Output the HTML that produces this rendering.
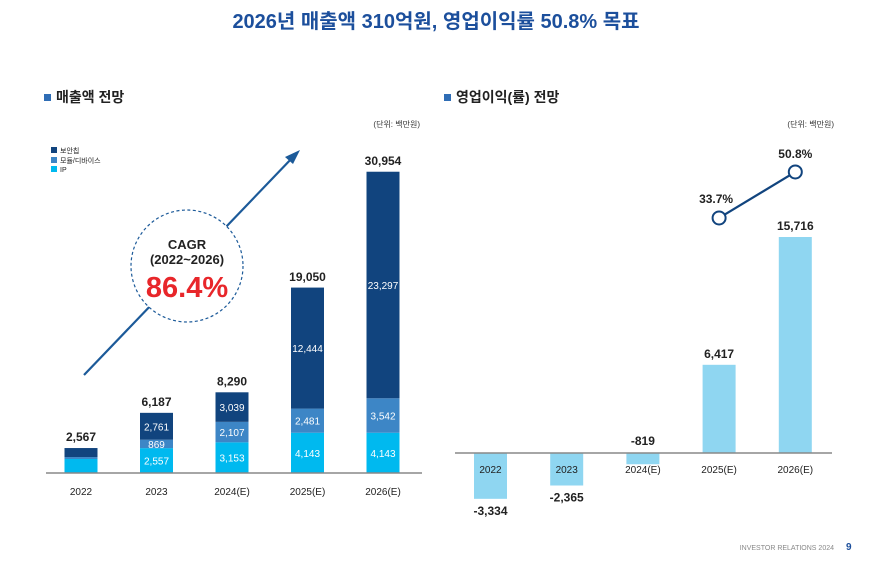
<!DOCTYPE html>
<html><head><meta charset="utf-8">
<style>
body{margin:0;width:872px;height:562px;background:#fff;overflow:hidden;font-family:"Liberation Sans","Noto Sans CJK KR",sans-serif;}
svg text{font-family:"Liberation Sans","Noto Sans CJK KR",sans-serif;}
</style></head><body>
<svg id="c" width="872" height="562" xmlns="http://www.w3.org/2000/svg">
<text x="436" y="28" text-anchor="middle" font-size="20" font-weight="bold" fill="#1c4f9c">2026년 매출액 310억원, 영업이익률 50.8% 목표</text>
<rect x="44" y="94" width="7" height="7" fill="#2f6db5"/>
<text x="56" y="102" font-size="14" font-weight="bold" fill="#222">매출액 전망</text>
<rect x="444" y="94" width="7" height="7" fill="#2f6db5"/>
<text x="456" y="102" font-size="14" font-weight="bold" fill="#222">영업이익(률) 전망</text>
<text x="420" y="127" text-anchor="end" font-size="8" fill="#333">(단위: 백만원)</text>
<text x="834" y="127" text-anchor="end" font-size="8" fill="#333">(단위: 백만원)</text>
<rect x="51" y="147" width="6" height="6" fill="#11447e"/>
<text x="60" y="153" font-size="7" fill="#222">보안칩</text>
<rect x="51" y="157" width="6" height="6" fill="#3d86c6"/>
<text x="60" y="163" font-size="7" fill="#222">모듈/디바이스</text>
<rect x="51" y="166" width="6" height="6" fill="#00b9ef"/>
<text x="60" y="172" font-size="7" fill="#222">IP</text>
<line x1="84" y1="375" x2="294" y2="156" stroke="#1c5a99" stroke-width="2.2"/>
<polygon points="300,150 285,157 293,164" fill="#1c5a99"/>
<circle cx="187" cy="266" r="56" fill="#fff" stroke="#1c5a99" stroke-width="1.2" stroke-dasharray="3,2.5"/>
<text x="187" y="249" text-anchor="middle" font-size="13" font-weight="bold" fill="#222">CAGR</text>
<text x="187" y="264" text-anchor="middle" font-size="13" font-weight="bold" fill="#222">(2022~2026)</text>
<text x="187" y="297" text-anchor="middle" font-size="29" font-weight="bold" fill="#e8262a">86.4%</text>
<g id="left"></g><g id="right"></g>
<text x="834" y="550" text-anchor="end" font-size="7" fill="#888">INVESTOR RELATIONS 2024</text>
<text x="846" y="550" font-size="10" font-weight="bold" fill="#1c4f9c">9</text>
</svg>
<script>
const years = ["2022","2023","2024(E)","2025(E)","2026(E)"];
const ipRev = [1440,2557,3153,4143,4143];
const moduleRev = [200,869,2107,2481,3542];
const chipRev = [927,2761,3039,12444,23297];
const totalRev = [2567,6187,8290,19050,30954];
const opProfit = [-3334,-2365,-819,6417,15716];
const marginYears = [3,4];
const marginPct = [33.7,50.8];

const NS="http://www.w3.org/2000/svg";
function mk(parent,tag,attrs,txt){const e=document.createElementNS(NS,tag);for(const k in attrs)e.setAttribute(k,attrs[k]);if(txt!==undefined)e.textContent=txt;parent.appendChild(e);return e;}
const fmt=v=>(v<0?"-":"")+Math.abs(v).toLocaleString("en-US");

// left chart
const L=document.getElementById("left");
const lBase=473, lScale=301/30954;
const lx=i=>81+i*75.5;
const ly=v=>lBase-v*lScale;
const segs=[[ipRev,"#00b9ef","ip"],[moduleRev,"#3d86c6","module"],[chipRev,"#11447e","chip"]];
years.forEach((y,i)=>{
  let acc=0;
  segs.forEach(([arr,col,nm])=>{
    const v=arr[i];
    const r=mk(L,"rect",{x:lx(i)-16.5,y:ly(acc+v),width:33,height:ly(acc)-ly(acc+v),fill:col});
    
    
    if(i>0){
      const t=mk(L,"text",{x:lx(i),y:(ly(acc)+ly(acc+v))/2+4,"text-anchor":"middle","font-size":"10",fill:"#fff"},fmt(v));
      
      
    }
    acc+=v;
  });
  const t=mk(L,"text",{x:lx(i),y:ly(totalRev[i])-7,"text-anchor":"middle","font-size":"12","font-weight":"bold",fill:"#222"},fmt(totalRev[i]));
  
  
  const c=mk(L,"text",{x:lx(i),y:495,"text-anchor":"middle","font-size":"10",fill:"#222"},y);
  
  
});
const la=mk(L,"line",{x1:46,y1:lBase,x2:422,y2:lBase,stroke:"#888","stroke-width":"1.5"});



// right chart
const R=document.getElementById("right");
const rBase=453, rScale=216/15716;
const rx=i=>490.5+i*76.2;
const ry=v=>rBase-v*rScale;
const py=p=>308.6-p*2.69;
years.forEach((y,i)=>{
  const v=opProfit[i];
  const r=mk(R,"rect",{x:rx(i)-16.5,y:Math.min(ry(v),rBase),width:33,height:Math.abs(ry(v)-rBase),fill:"#8fd6f1"});
  
  
  const ty=v>=0?ry(v)-7:(i==2?rBase-8:ry(v)+16);
  const t=mk(R,"text",{x:rx(i),y:ty,"text-anchor":"middle","font-size":"12","font-weight":"bold",fill:"#222"},fmt(v));
  
  
  const c=mk(R,"text",{x:rx(i),y:473,"text-anchor":"middle","font-size":"10",fill:"#222"},y);
  
  
});
const ra=mk(R,"line",{x1:455,y1:rBase,x2:832,y2:rBase,stroke:"#888","stroke-width":"1.5"});


const pts=marginYears.map((yi,k)=>[rx(yi),py(marginPct[k])]);
const ml=mk(R,"polyline",{points:pts.map(p=>p.join(",")).join(" "),fill:"none",stroke:"#11447e","stroke-width":"2.2"});


pts.forEach((p,k)=>{
  const c=mk(R,"circle",{cx:p[0],cy:p[1],r:6.5,fill:"#fff",stroke:"#11447e","stroke-width":"2"});
  
  
  const t=mk(R,"text",{x:p[0]+(k==0?-3:0),y:p[1]-(k==0?15:14),"text-anchor":"middle","font-size":"12","font-weight":"bold",fill:"#222"},marginPct[k].toFixed(1)+"%");
  
  
});
</script>
</body></html>
